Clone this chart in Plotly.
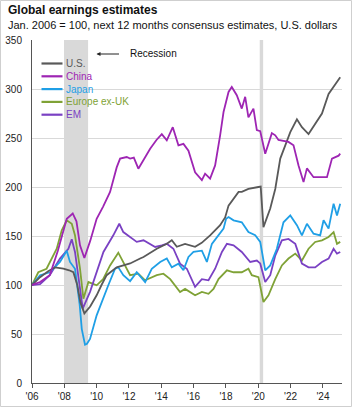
import plotly.graph_objects as go

# ---------------- data (decimal years, index Jan 2006 = 100) ----------------
us_x = [2006.0, 2006.5, 2007.0, 2007.42, 2007.94, 2008.3, 2008.56, 2008.8, 2009.0, 2009.24, 2009.6, 2010.0,
        2010.3, 2010.62, 2011.24, 2012.07, 2012.69, 2012.9, 2013.72, 2014.34, 2014.65, 2014.96, 2015.47,
        2016.09, 2016.5, 2017.02, 2017.64, 2017.95, 2018.16, 2018.47, 2018.78, 2018.98, 2019.39, 2020.01,
        2020.15, 2020.32, 2020.74, 2021.05, 2021.36, 2021.67, 2021.98, 2022.39, 2022.7, 2023.11, 2023.52,
        2023.94, 2024.35, 2024.76, 2025.07]
us_y = [100, 108, 114, 118, 116.6, 115, 113, 100, 82, 71, 78, 89.5,
        100, 110, 118, 122, 127, 128.6, 137, 142, 145.6, 139, 142,
        139, 143, 150.7, 161, 169, 181, 188, 195, 195, 198, 200,
        200.5, 159, 178, 198, 229, 242.5, 256, 269, 261, 254, 264.6,
        275, 295, 305, 312]

china_x = [2006.0, 2006.5, 2007.1, 2007.6, 2008.15, 2008.52, 2008.75, 2008.97, 2009.24, 2009.6, 2010.0, 2010.4,
           2010.83, 2011.24, 2011.45, 2011.86, 2012.07, 2012.3, 2012.58, 2013.0, 2013.31, 2013.7, 2014.03,
           2014.34, 2014.71, 2015.06, 2015.37, 2015.68, 2016.09, 2016.51, 2016.71, 2017.02, 2017.33, 2017.64,
           2017.85, 2018.16, 2018.36, 2018.67, 2018.98, 2019.19, 2019.39, 2019.7, 2019.91, 2020.12, 2020.43,
           2020.84, 2021.05, 2021.25, 2021.87, 2022.18, 2022.49, 2022.8, 2023.01, 2023.42, 2023.83, 2024.25,
           2024.56, 2024.97, 2025.07]
china_y = [100, 103, 110, 135, 167.6, 173, 165, 140.5, 127.5, 145, 167.6, 180,
           195, 220, 229, 230.6, 229, 230, 218.7, 230, 239, 248, 254,
           247.6, 261, 242.5, 244, 237, 215, 207, 213.6, 208.5, 222, 252.7,
           276.5, 297, 302, 293.6, 280, 292, 271, 280, 258, 257, 234,
           255, 252.7, 248, 246, 242.5, 222, 205, 219, 210, 210, 210,
           229, 232, 234]

japan_x = [2006.0, 2006.5, 2007.11, 2007.73, 2008.15, 2008.35, 2008.66, 2008.95, 2009.08, 2009.28, 2009.4,
           2009.59, 2010.0, 2010.31, 2010.72, 2011.14, 2011.34, 2011.65, 2012.07, 2012.48, 2013.0, 2013.41,
           2013.93, 2014.34, 2014.65, 2015.06, 2015.37, 2015.68, 2015.99, 2016.51, 2016.82, 2017.13, 2017.54,
           2017.85, 2018.01, 2018.16, 2018.47, 2018.98, 2019.39, 2019.81, 2020.12, 2020.43, 2020.74, 2021.15,
           2021.56, 2021.98, 2022.39, 2022.7, 2023.01, 2023.42, 2023.83, 2024.04, 2024.35, 2024.66, 2024.87,
           2025.07]
japan_y = [100, 110, 113, 123.5, 135, 123.5, 116.6, 80, 55, 39, 40,
           45, 69, 82.6, 99.7, 116.6, 118, 110, 104, 113, 103, 116.6,
           123.5, 127, 118, 121.8, 115, 128.6, 133.7, 135, 123.5, 142, 150.7,
           157.5, 167.6, 169.4, 166, 164, 154, 150.7, 144, 115, 120, 137,
           164, 171, 161, 150.7, 162.5, 152.3, 150.7, 166, 157.5, 183, 171,
           183]

europe_x = [2006.0, 2006.39, 2006.9, 2007.53, 2007.84, 2008.15, 2008.46, 2008.66, 2008.97, 2009.18, 2009.49,
            2010.0, 2010.4, 2010.83, 2011.34, 2011.86, 2012.07, 2012.58, 2013.0, 2013.72, 2014.13, 2014.55,
            2014.86, 2015.16, 2015.47, 2016.09, 2016.51, 2016.92, 2017.23, 2017.54, 2018.06, 2018.47, 2018.98,
            2019.39, 2019.6, 2020.01, 2020.32, 2020.63, 2021.05, 2021.46, 2021.87, 2022.29, 2022.7, 2023.11,
            2023.52, 2023.94, 2024.35, 2024.66, 2024.87, 2025.07]
europe_y = [100, 113, 116.6, 137, 155.8, 166, 162.5, 150.7, 116.6, 86, 103,
            99.7, 106, 120, 133, 116.6, 110, 111.5, 104.8, 110, 111.5, 106,
            99.7, 92.9, 96, 89.5, 92.9, 91, 96, 106, 115, 113, 113,
            116.6, 110, 108, 82.6, 89.5, 106, 120, 127, 132, 125, 137,
            143.9, 145.6, 149, 154, 142, 144]

em_x = [2006.0, 2006.5, 2007.1, 2007.73, 2008.25, 2008.46, 2008.66, 2008.97, 2009.14, 2009.59, 2010.0,
        2010.42, 2011.03, 2011.4, 2011.65, 2012.07, 2012.48, 2012.9, 2013.62, 2014.03, 2014.34, 2014.75,
        2015.16, 2015.58, 2015.89, 2016.09, 2016.51, 2016.92, 2017.33, 2017.75, 2018.06, 2018.47, 2018.98,
        2019.5, 2019.91, 2020.12, 2020.43, 2020.74, 2021.05, 2021.46, 2021.87, 2022.29, 2022.7, 2023.11,
        2023.52, 2023.94, 2024.35, 2024.66, 2024.87, 2025.07]
em_y = [100, 101, 110, 127, 137, 146.6, 133.7, 99.7, 76, 93, 113,
        133.7, 150.7, 162.5, 154, 149, 144, 145.6, 138.8, 140.5, 142, 137,
        121.8, 116.6, 106, 98, 106, 104.8, 116.6, 133.7, 142, 140.5, 133.7,
        123.5, 125, 122, 103, 110, 130, 145.6, 147, 142, 121.8, 118,
        118, 123.5, 127, 137, 132, 133.7]

series_names = ["U.S.", "China", "Japan", "Europe ex-UK", "EM"]
series_colors = ["#595959", "#9e25b3", "#1f9fe6", "#7fa236", "#7a41c3"]
series_x = [us_x, china_x, japan_x, europe_x, em_x]
series_y = [us_y, china_y, japan_y, europe_y, em_y]

tick_years = [2006, 2008, 2010, 2012, 2014, 2016, 2018, 2020, 2022, 2024]
tick_text = ["'06", "'08", "'10", "'12", "'14", "'16", "'18", "'20", "'22", "'24"]
recessions = [(2007.98, 2009.47), (2020.09, 2020.3)]

# ---------------- figure ----------------
FONT = "Arial, Liberation Sans, sans-serif"
W, H = 354, 408
ML, MR, MT, MB = 32, 12, 40, 25
PW, PH = W - ML - MR, H - MT - MB

def px_x(p):
    return (p - ML) / PW

def px_y(p):
    return (H - MB - p) / PH

fig = go.Figure()
draw_order = [3, 4, 2, 0, 1]
for i in draw_order:
    fig.add_trace(go.Scatter(x=series_x[i], y=series_y[i], mode="lines", name=series_names[i],
                             line=dict(color=series_colors[i], width=1.8), showlegend=False))

for x0, x1 in recessions:
    fig.add_shape(type="rect", xref="x", yref="paper", x0=x0, x1=x1, y0=0, y1=1,
                  fillcolor="#d9d9d9", line=dict(width=0), layer="between")

# custom legend
for k, (nm, col) in enumerate(zip(series_names, series_colors)):
    yy = 63.5 + k * 12.8
    fig.add_shape(type="line", xref="paper", yref="paper", x0=px_x(41.5), x1=px_x(62.5),
                  y0=px_y(yy), y1=px_y(yy), line=dict(color=col, width=2.2))
    fig.add_annotation(xref="paper", yref="paper", x=px_x(63.5), y=px_y(yy), text=nm,
                       showarrow=False, xanchor="left", yanchor="middle",
                       font=dict(family=FONT, size=10, color=col))

# recession label
fig.add_annotation(xref="paper", yref="paper", x=px_x(96.5), y=px_y(54), ax=24, ay=0, text="",
                   showarrow=True, arrowhead=2, arrowsize=0.8, arrowwidth=1, arrowcolor="#222")
fig.add_annotation(xref="paper", yref="paper", x=px_x(127.5), y=px_y(53.5), text="Recession",
                   showarrow=False, xanchor="left", yanchor="middle",
                   font=dict(family=FONT, size=10, color="#111"))

# titles
fig.add_annotation(xref="paper", yref="paper", x=px_x(6), y=px_y(10.5), text="<b>Global earnings estimates</b>",
                   showarrow=False, xanchor="left", yanchor="middle",
                   font=dict(family=FONT, size=12, color="#111"))
fig.add_annotation(xref="paper", yref="paper", x=px_x(6), y=px_y(24.5),
                   text="Jan. 2006 = 100, next 12 months consensus estimates, U.S. dollars",
                   showarrow=False, xanchor="left", yanchor="middle",
                   font=dict(family=FONT, size=11, color="#111"))

# outer border
fig.add_shape(type="rect", xref="paper", yref="paper", x0=px_x(0.5), x1=px_x(351.5),
              y0=px_y(406.5), y1=px_y(0.5), line=dict(color="#cfcfcf", width=1))

fig.update_layout(
    width=W, height=H, margin=dict(l=ML, r=MR, t=MT, b=MB, autoexpand=False),
    paper_bgcolor="white", plot_bgcolor="white",
    font=dict(family=FONT, size=10, color="#222"),
    xaxis=dict(range=[2006, 2025.18], tickmode="array", tickvals=tick_years, ticktext=tick_text,
               showgrid=False, zeroline=False, showline=True, linecolor="#555", linewidth=1,
               ticks="outside", ticklen=4, tickcolor="#555", tickfont=dict(size=10, color="#222"),
               automargin=False),
    yaxis=dict(range=[0, 350], tickvals=[0, 50, 100, 150, 200, 250, 300, 350],
               showgrid=True, gridcolor="#d9d9d9", gridwidth=1, zeroline=False,
               showline=True, linecolor="#555", linewidth=1, ticks="", ticklabelstandoff=7,
               tickfont=dict(size=10, color="#222"), automargin=False),
)

fig.write_html("out.html")
